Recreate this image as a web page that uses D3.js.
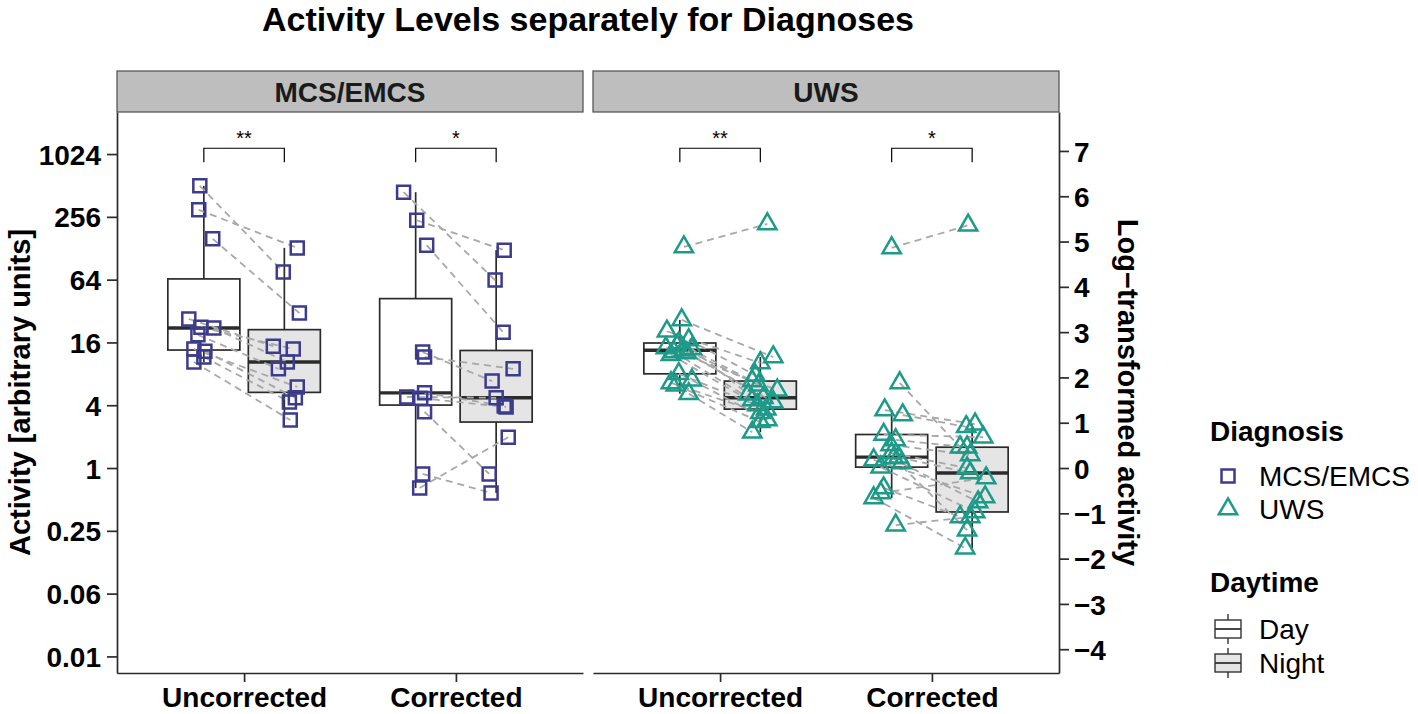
<!DOCTYPE html>
<html><head><meta charset="utf-8">
<script src="https://cdn.jsdelivr.net/npm/d3@7"></script>
<style>
body{margin:0;background:#fff}
svg{display:block}
text{font-family:"Liberation Sans", Arial, Helvetica, sans-serif;}
</style>
</head><body>
<svg id="chart" width="1418" height="714"></svg>
<script>
// ---------------- DATA ----------------
const facets = ["MCS/EMCS", "UWS"];
const corrections = ["Uncorrected", "Corrected"];
const daytimes = ["Day", "Night"];
const diagnosisLabels = ["MCS/EMCS", "UWS"];
const leftTickValues = [0.015625, 0.0625, 0.25, 1, 4, 16, 64, 256, 1024];
const leftTickLabels = ["0.01", "0.06", "0.25", "1", "4", "16", "64", "256", "1024"];
const rightTickValues = [-4, -3, -2, -1, 0, 1, 2, 3, 4, 5, 6, 7];
const sigLabels = ["**", "*"]; // Uncorrected, Corrected (same in both facets)

// log-transformed activity (natural log), one entry per patient, Day/Night paired by index
const mcsUncDay   = [6.23, 5.70, 5.06, 3.29, 3.11, 3.09, 2.94, 2.63, 2.58, 2.45, 2.34];
const mcsUncNight = [4.33, 4.86, 3.42, 2.69, 2.63, 2.34, 2.19, 1.79, 1.55, 1.46, 1.06];
const mcsCorDay   = [6.09, 5.47, 4.92, 2.56, 2.45, 1.57, 1.66, 1.54, 1.24, -0.13, -0.44];
const mcsCorNight = [4.15, 4.81, 3.00, 1.92, 2.19, 1.55, 1.37, 1.35, -0.13, -0.55, 0.68];

const uwsUncDay   = [4.88, 3.27, 3.02, 2.83, 2.76, 2.70, 2.65, 2.63, 2.60, 2.56, 2.54, 2.50, 2.08, 1.94, 1.88, 1.83, 1.64];
const uwsUncNight = [5.39, 2.45, 2.32, 2.05, 1.92, 1.83, 1.72, 1.63, 1.55, 1.50, 1.46, 1.39, 1.30, 1.06, 1.22, 1.02, 0.79];
const uwsCorDay   = [4.86, 1.88, 1.28, 1.17, 0.74, 0.62, 0.51, 0.33, 0.24, 0.22, 0.18, 0.11, 0.02, -0.44, -0.55, -0.66, -1.26];
const uwsCorNight = [5.36, 0.46, 0.97, 0.91, 0.68, 0.46, 0.29, 0.00, -0.11, -1.37, -0.64, -0.75, -0.97, -1.08, -0.22, -1.77, -1.08];

// horizontal jitter (in category units)
const mcsUncDayJit   = [-0.019, -0.024, 0.042, -0.071, -0.014, 0.047, -0.028, -0.047, 0.005, 0.000, -0.047];
const mcsUncNightJit = [-0.005, 0.061, 0.071, -0.052, 0.042, 0.014, -0.028, 0.061, 0.052, 0.024, 0.028];
const mcsCorDayJit   = [-0.057, 0.005, 0.052, 0.033, 0.042, -0.042, 0.042, 0.024, 0.042, 0.033, 0.019];
const mcsCorNightJit = [-0.005, 0.038, 0.033, -0.019, 0.080, 0.000, 0.038, 0.047, -0.033, -0.024, 0.057];
const uwsUncDayJit   = [0.019, 0.009, -0.061, 0.042, -0.005, -0.014, -0.066, 0.057, 0.019, -0.028, 0.033, -0.042, -0.005, 0.057, -0.042, -0.019, 0.042];
const uwsUncNightJit = [0.033, 0.061, 0.000, -0.024, -0.038, -0.009, 0.080, -0.057, 0.014, -0.038, 0.061, -0.014, 0.028, 0.033, 0.000, 0.000, -0.038];
const uwsCorDayJit   = [0.000, 0.038, -0.033, 0.052, -0.038, 0.019, -0.005, 0.000, 0.033, 0.009, -0.085, 0.047, -0.052, -0.038, -0.052, -0.085, 0.019];
const uwsCorNightJit = [-0.019, -0.057, 0.014, -0.028, 0.052, -0.024, -0.009, -0.024, -0.009, -0.024, 0.061, 0.028, 0.014, -0.057, 0.066, -0.033, -0.009];

const seriesTable = {
  "MCS/EMCS": {
    Uncorrected: {Day: mcsUncDay, Night: mcsUncNight, DayJit: mcsUncDayJit, NightJit: mcsUncNightJit},
    Corrected:   {Day: mcsCorDay, Night: mcsCorNight, DayJit: mcsCorDayJit, NightJit: mcsCorNightJit}
  },
  "UWS": {
    Uncorrected: {Day: uwsUncDay, Night: uwsUncNight, DayJit: uwsUncDayJit, NightJit: uwsUncNightJit},
    Corrected:   {Day: uwsCorDay, Night: uwsCorNight, DayJit: uwsCorDayJit, NightJit: uwsCorNightJit}
  }
};

// ---------------- LAYOUT / STYLE ----------------
const svg = d3.select("#chart");
const FONT = '"Liberation Sans", Arial, Helvetica, sans-serif';
const panelTop = 112, panelBottom = 673, stripTop = 71;
const panels = [{left: 117, right: 583}, {left: 593, right: 1059}];
const colors = {"MCS/EMCS": "#3D3B8E", "UWS": "#1E9A89"};
const boxFill = {Day: "#FFFFFF", Night: "#E5E5E5"};
const lineCol = "#2B2B2B";
const dodge = 0.19, boxHalf = 0.17;

const lnDomain = [-4.525, 7.86];
const yLin = d3.scaleLinear().domain(lnDomain).range([panelBottom, panelTop]);
const yLog = d3.scaleLog().base(2).domain(lnDomain.map(Math.exp)).range([panelBottom, panelTop]);

function squarePath(cx, cy, s) {
  const h = s / 2;
  return `M${cx - h},${cy - h}H${cx + h}V${cy + h}H${cx - h}Z`;
}
function trianglePath(cx, cy, xc) {
  const r = 1.5551 * xc, w = 1.3468 * xc, yc = 0.7776 * xc;
  return `M${cx},${cy - r}L${cx + w},${cy + yc}L${cx - w},${cy + yc}Z`;
}
function shapePath(diag, cx, cy) {
  return diag === "UWS" ? trianglePath(cx, cy, 6.8) : squarePath(cx, cy, 13);
}
function boxStats(vals) {
  const s = vals.slice().sort(d3.ascending);
  const q1 = d3.quantileSorted(s, 0.25), med = d3.quantileSorted(s, 0.5), q3 = d3.quantileSorted(s, 0.75);
  const iqr = q3 - q1;
  const lo = d3.min(s.filter(v => v >= q1 - 1.5 * iqr));
  const hi = d3.max(s.filter(v => v <= q3 + 1.5 * iqr));
  return {q1, med, q3, lo, hi};
}

// Title
svg.append("text").attr("x", 588).attr("y", 31).attr("text-anchor", "middle")
  .attr("font-size", 34).attr("font-weight", "bold").attr("fill", "#000")
  .text("Activity Levels separately for Diagnoses");

facets.forEach((facet, fi) => {
  const p = panels[fi];
  const x = d3.scalePoint().domain(corrections).range([p.left, p.right]).padding(0.6);
  const step = x.step();
  const g = svg.append("g");

  // strip
  g.append("rect").attr("x", p.left).attr("y", stripTop).attr("width", p.right - p.left)
    .attr("height", panelTop - stripTop).attr("fill", "#BEBEBE").attr("stroke", "#4D4D4D").attr("stroke-width", 1.2);
  g.append("text").attr("x", (p.left + p.right) / 2).attr("y", 102).attr("text-anchor", "middle")
    .attr("font-size", 28).attr("font-weight", "bold").attr("fill", "#1A1A1A").text(facet);

  corrections.forEach((cond, ci) => {
    const grp = seriesTable[facet][cond];
    const cx = {Day: x(cond) - dodge * step, Night: x(cond) + dodge * step};

    // boxes
    daytimes.forEach(dt => {
      const st = boxStats(grp[dt]);
      const bx = cx[dt];
      const hw = boxHalf * step;
      g.append("line").attr("x1", bx).attr("x2", bx).attr("y1", yLin(st.q3)).attr("y2", yLin(st.hi))
        .attr("stroke", lineCol).attr("stroke-width", 1.7);
      g.append("line").attr("x1", bx).attr("x2", bx).attr("y1", yLin(st.q1)).attr("y2", yLin(st.lo))
        .attr("stroke", lineCol).attr("stroke-width", 1.7);
      g.append("rect").attr("x", bx - hw).attr("y", yLin(st.q3)).attr("width", 2 * hw)
        .attr("height", yLin(st.q1) - yLin(st.q3)).attr("fill", boxFill[dt])
        .attr("stroke", lineCol).attr("stroke-width", 1.7);
      g.append("line").attr("x1", bx - hw).attr("x2", bx + hw).attr("y1", yLin(st.med)).attr("y2", yLin(st.med))
        .attr("stroke", lineCol).attr("stroke-width", 3.4);
    });

    // paired dashed lines
    grp.Day.forEach((v, i) => {
      g.append("line")
        .attr("x1", cx.Day + grp.DayJit[i] * step).attr("y1", yLin(v))
        .attr("x2", cx.Night + grp.NightJit[i] * step).attr("y2", yLin(grp.Night[i]))
        .attr("stroke", "#A8A8A8").attr("stroke-width", 1.8).attr("stroke-dasharray", "7,5");
    });

    // points
    daytimes.forEach(dt => {
      grp[dt].forEach((v, i) => {
        g.append("path").attr("d", shapePath(facet, cx[dt] + grp[dt + "Jit"][i] * step, yLin(v)))
          .attr("fill", "none").attr("stroke", colors[facet]).attr("stroke-width", 2.5);
      });
    });

    // significance bracket
    const yb = yLin(7.06), yl = yLin(6.75);
    g.append("path").attr("d", `M${cx.Day},${yl}V${yb}H${cx.Night}V${yl}`)
      .attr("fill", "none").attr("stroke", "#000").attr("stroke-width", 1.2);
    g.append("text").attr("x", (cx.Day + cx.Night) / 2).attr("y", yb - 3).attr("text-anchor", "middle")
      .attr("font-size", 20).attr("fill", "#000").text(sigLabels[ci]);
  });

  // x axis
  const xa = g.append("g").attr("transform", `translate(0,${panelBottom})`)
    .call(d3.axisBottom(x).tickSize(9).tickSizeOuter(0).tickPadding(8));
  xa.select(".domain").attr("stroke", lineCol).attr("stroke-width", 1.7);
  xa.selectAll(".tick line").attr("stroke", lineCol).attr("stroke-width", 1.7);
  xa.selectAll(".tick text").attr("font-size", 28).attr("font-weight", "bold").attr("fill", "#000")
    .attr("font-family", FONT).attr("dy", "0").attr("y", 34);
});

// left axis
const ya = svg.append("g").attr("transform", `translate(${panels[0].left},0)`)
  .call(d3.axisLeft(yLog).tickValues(leftTickValues).tickFormat((d, i) => leftTickLabels[i])
    .tickSize(10).tickSizeOuter(0).tickPadding(6));
ya.select(".domain").attr("stroke", lineCol).attr("stroke-width", 1.7);
ya.selectAll(".tick line").attr("stroke", lineCol).attr("stroke-width", 1.7);
ya.selectAll(".tick text").attr("font-size", 28).attr("font-weight", "bold").attr("fill", "#000")
  .attr("font-family", FONT).attr("dy", "0.36em");

// right axis
const yra = svg.append("g").attr("transform", `translate(${panels[1].right},0)`)
  .call(d3.axisRight(yLin).tickValues(rightTickValues).tickSize(10).tickSizeOuter(0).tickPadding(5));
yra.select(".domain").attr("stroke", lineCol).attr("stroke-width", 1.7);
yra.selectAll(".tick line").attr("stroke", lineCol).attr("stroke-width", 1.7);
yra.selectAll(".tick text").attr("font-size", 28).attr("font-weight", "bold").attr("fill", "#000")
  .attr("font-family", FONT).attr("dy", "0.36em");

// axis titles
const midY = (panelTop + panelBottom) / 2;
svg.append("text").attr("transform", `translate(30,${midY}) rotate(-90)`).attr("text-anchor", "middle")
  .attr("font-size", 29).attr("font-weight", "bold").attr("fill", "#000").text("Activity [arbitrary units]");
svg.append("text").attr("transform", `translate(1118,${midY}) rotate(90)`).attr("text-anchor", "middle")
  .attr("font-size", 29).attr("font-weight", "bold").attr("fill", "#000").text("Log\u2212transformed activity");

// legends
const lg = svg.append("g");
const keyX = 1228, textX = 1259;
lg.append("text").attr("x", 1210).attr("y", 441).attr("font-size", 28).attr("font-weight", "bold").text("Diagnosis");
diagnosisLabels.forEach((d, i) => {
  const ky = 476 + i * 33;
  lg.append("path").attr("d", shapePath(d, keyX, ky)).attr("fill", "none")
    .attr("stroke", colors[d]).attr("stroke-width", 2.5);
  lg.append("text").attr("x", textX).attr("y", ky + 10).attr("font-size", 28).text(d);
});
lg.append("text").attr("x", 1210).attr("y", 592).attr("font-size", 28).attr("font-weight", "bold").text("Daytime");
daytimes.forEach((d, i) => {
  const ky = 629 + i * 34;
  lg.append("line").attr("x1", keyX).attr("x2", keyX).attr("y1", ky - 15).attr("y2", ky + 15)
    .attr("stroke", "#333").attr("stroke-width", 1.4);
  lg.append("rect").attr("x", keyX - 13).attr("y", ky - 9).attr("width", 26).attr("height", 18)
    .attr("fill", boxFill[d]).attr("stroke", "#333").attr("stroke-width", 1.4);
  lg.append("line").attr("x1", keyX - 13).attr("x2", keyX + 13).attr("y1", ky).attr("y2", ky)
    .attr("stroke", "#333").attr("stroke-width", 1.8);
  lg.append("text").attr("x", textX).attr("y", ky + 10).attr("font-size", 28).text(d);
});
</script>
</body></html>
